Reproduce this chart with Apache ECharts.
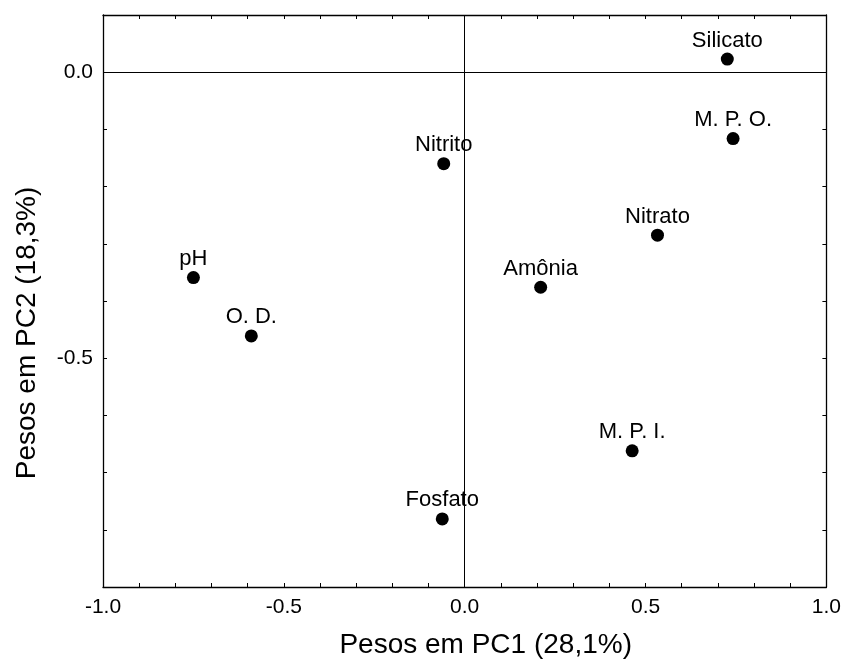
<!DOCTYPE html>
<html>
<head>
<meta charset="utf-8">
<script src="https://cdn.jsdelivr.net/npm/echarts@6/dist/echarts.min.js"></script>
<style>
  html, body { margin: 0; padding: 0; background: #fff; }
  #chart { width: 844px; height: 664px; }
</style>
</head>
<body>
<div id="chart"></div>
<script>
// Variable loadings on the first two principal components
const variables = ['Silicato', 'M. P. O.', 'Nitrito', 'Nitrato', 'Amônia', 'pH', 'O. D.', 'M. P. I.', 'Fosfato'];
const pc1Loadings = [0.726, 0.742, -0.058, 0.533, 0.210, -0.750, -0.590, 0.463, -0.062];
const pc2Loadings = [0.023, -0.116, -0.160, -0.285, -0.376, -0.359, -0.461, -0.662, -0.781];

const xTitle = 'Pesos em PC1 (28,1%)';
const yTitle = 'Pesos em PC2 (18,3%)';

const FONT = '"Liberation Sans", Arial, sans-serif';

const points = variables.map((name, i) => ({ name: name, value: [pc1Loadings[i], pc2Loadings[i]] }));

// Labels only on multiples of 0.5; ticks every 0.1
function halfLabel(v) {
  const r = Math.round(v * 10);
  if (r % 5 !== 0) return '';
  return (r / 10).toFixed(1);
}

const axisLineStyle = { show: true, onZero: false, lineStyle: { color: '#000', width: 1.3 } };
const tickStyle = { show: true, inside: true, length: 4, lineStyle: { color: '#000', width: 1 } };

const chart = echarts.init(document.getElementById('chart'), null, { renderer: 'canvas' });
chart.setOption({
  animation: false,
  backgroundColor: '#fff',
  grid: { left: 103, right: 17, top: 15, bottom: 73, containLabel: false },
  xAxis: [
    {
      type: 'value', min: -1.0, max: 1.0, interval: 0.1, position: 'bottom',
      name: xTitle, nameLocation: 'middle', nameGap: 44,
      nameTextStyle: { fontFamily: FONT, fontSize: 28, color: '#000', padding: [0, 0, 0, 42] },
      axisLine: axisLineStyle, axisTick: tickStyle,
      axisLabel: { formatter: halfLabel, fontFamily: FONT, fontSize: 21, color: '#000', margin: 10, showMinLabel: true, showMaxLabel: true },
      splitLine: { show: false }
    },
    {
      type: 'value', min: -1.0, max: 1.0, interval: 0.1, position: 'top',
      axisLine: axisLineStyle, axisTick: tickStyle,
      axisLabel: { show: false }, splitLine: { show: false }
    }
  ],
  yAxis: [
    {
      type: 'value', min: -0.9, max: 0.1, interval: 0.1, position: 'left',
      name: yTitle, nameLocation: 'middle', nameGap: 62, nameRotate: 90,
      nameTextStyle: { fontFamily: FONT, fontSize: 28, color: '#000', padding: [0, 64, 0, 0] },
      axisLine: axisLineStyle, axisTick: tickStyle,
      axisLabel: { formatter: halfLabel, fontFamily: FONT, fontSize: 21, color: '#000', margin: 10 },
      splitLine: { show: false }
    },
    {
      type: 'value', min: -0.9, max: 0.1, interval: 0.1, position: 'right',
      axisLine: axisLineStyle, axisTick: tickStyle,
      axisLabel: { show: false }, splitLine: { show: false }
    }
  ],
  series: [
    {
      type: 'scatter',
      xAxisIndex: 0, yAxisIndex: 0,
      symbol: 'circle', symbolSize: 13,
      itemStyle: { color: '#000', opacity: 1 },
      label: {
        show: true, position: 'top', distance: 1,
        formatter: p => p.name,
        fontFamily: FONT, fontSize: 22, color: '#000'
      },
      emphasis: { disabled: true },
      data: points,
      markLine: {
        silent: true, symbol: 'none', animation: false,
        label: { show: false },
        lineStyle: { color: '#000', width: 1, type: 'solid' },
        data: [{ xAxis: 0 }, { yAxis: 0 }]
      },
      z: 3
    }
  ]
});
</script>
</body>
</html>
